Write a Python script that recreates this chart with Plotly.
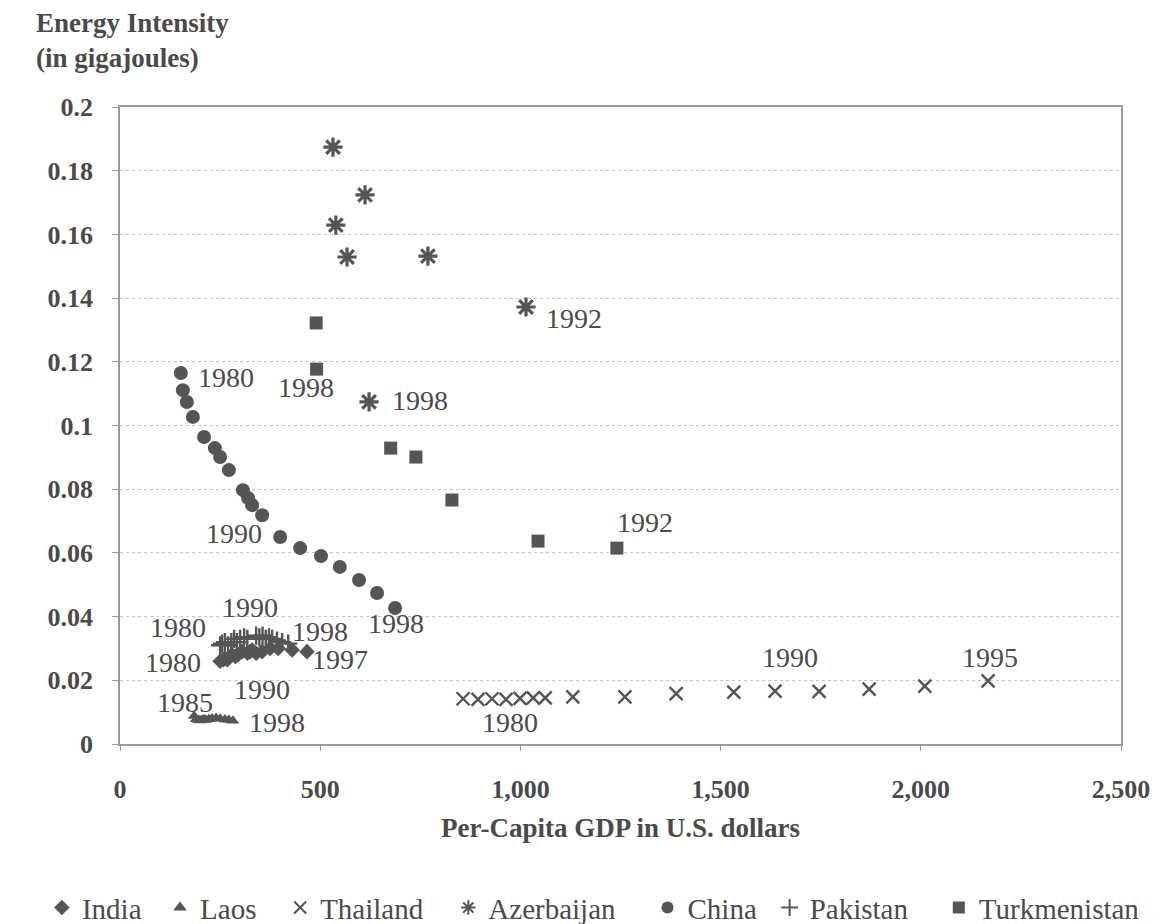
import plotly.graph_objects as go

# ---------------- data ----------------
india_x = [250, 258, 262, 268, 272, 280, 288, 295, 305, 318, 325, 330, 340, 355, 375, 395, 430, 467]
india_y = [0.026, 0.0265, 0.027, 0.0265, 0.027, 0.028, 0.0275, 0.028, 0.029, 0.0285, 0.029, 0.0295,
           0.0285, 0.029, 0.030, 0.030, 0.0295, 0.029]

laos_x = [185, 190, 196, 200, 205, 210, 215, 222, 230, 240, 250, 262, 272, 282]
laos_y = [0.0088, 0.0078, 0.0075, 0.0074, 0.0076, 0.0078, 0.0075, 0.0078, 0.008, 0.0082, 0.0079,
          0.0077, 0.0075, 0.0073]

thailand_x = [857, 894, 929, 964, 999, 1032, 1062, 1131, 1261, 1389, 1533, 1636, 1746, 1871, 2010, 2168]
thailand_y = [0.0142, 0.0140, 0.0142, 0.0140, 0.0143, 0.0145, 0.0145, 0.0148, 0.0148, 0.0158,
              0.0163, 0.0166, 0.0165, 0.0172, 0.0182, 0.0198]

azerbaijan_x = [1014, 769, 612, 532, 539, 567, 622]
azerbaijan_y = [0.1372, 0.1532, 0.1724, 0.1874, 0.1629, 0.1529, 0.1074]

china_x = [152, 157, 167, 182, 210, 237, 250, 272, 307, 320, 330, 355, 400, 450, 502, 549, 597, 642, 687]
china_y = [0.1165, 0.1111, 0.1074, 0.1027, 0.0964, 0.0929, 0.0901, 0.0860, 0.0797, 0.0772, 0.0750,
           0.0718, 0.0650, 0.0615, 0.0590, 0.0556, 0.0515, 0.0474, 0.0427]

pakistan_x = [250, 255, 262, 270, 278, 285, 292, 300, 310, 318, 340, 348, 356, 364, 372, 380, 392, 405, 420]
pakistan_y = [0.031, 0.0315, 0.032, 0.031, 0.032, 0.033, 0.032, 0.033, 0.0335, 0.033, 0.034, 0.0335,
              0.034, 0.033, 0.0335, 0.033, 0.0325, 0.032, 0.0315]

turkmenistan_x = [1241, 1044, 829, 739, 676, 490, 491]
turkmenistan_y = [0.0615, 0.0637, 0.0766, 0.0901, 0.0929, 0.1322, 0.1177]

# year labels: (text, x, y)
year_labels = [
    ("1980", 265, 0.1150), ("1990", 285, 0.0662), ("1998", 690, 0.0377),
    ("1998", 465, 0.1118), ("1998", 749, 0.1080), ("1992", 1134, 0.1337),
    ("1992", 1311, 0.0697),
    ("1980", 145, 0.0367), ("1990", 325, 0.0430), ("1998", 500, 0.0352),
    ("1980", 132, 0.0257), ("1997", 549, 0.0264),
    ("1985", 162, 0.0129), ("1990", 355, 0.0170), ("1998", 392, 0.0069),
    ("1980", 974, 0.0066), ("1990", 1673, 0.0273), ("1995", 2173, 0.0273),
]

y_ticks = [0, 0.02, 0.04, 0.06, 0.08, 0.1, 0.12, 0.14, 0.16, 0.18, 0.2]
y_ticktext = ["0", "0.02", "0.04", "0.06", "0.08", "0.1", "0.12", "0.14", "0.16", "0.18", "0.2"]
x_ticks = [0, 500, 1000, 1500, 2000, 2500]
x_ticktext = ["0", "500", "1,000", "1,500", "2,000", "2,500"]

# ---------------- figure ----------------
FONT = "Liberation Serif"
INK = "#555555"
TXT = "#4a4a4a"

fig = go.Figure()

# legend slot positions (paper x, left edge) for each series
legend_slots = [-0.078, 0.040, 0.160, 0.328, 0.527, 0.649, 0.818]


def add(i, name, xs, ys, symbol, size, lw=0, open_=False):
    marker = dict(symbol=symbol, size=size, color=INK,
                  line=dict(color=INK, width=lw if open_ else 0))
    lname = "legend" if i == 0 else f"legend{i + 1}"
    fig.add_trace(go.Scatter(x=xs, y=ys, mode="markers", name=name, marker=marker, legend=lname))
    fig.update_layout({lname: dict(orientation="h", x=legend_slots[i], xanchor="left",
                                   y=-0.257, yanchor="middle", bgcolor="rgba(0,0,0,0)",
                                   font=dict(family=FONT, size=29, color=TXT),
                                   itemsizing="constant", itemwidth=30)})


add(0, "India", india_x, india_y, "diamond", 12)
add(1, "Laos", laos_x, laos_y, "triangle-up", 11)
add(2, "Thailand", thailand_x, thailand_y, "x-thin-open", 13, lw=2.4, open_=True)
add(3, "Azerbaijan", azerbaijan_x, azerbaijan_y, "asterisk-open", 16, lw=3.2, open_=True)
add(4, "China", china_x, china_y, "circle", 14)
add(5, "Pakistan", pakistan_x, pakistan_y, "cross-thin-open", 13, lw=2.4, open_=True)
add(6, "Turkmenistan", turkmenistan_x, turkmenistan_y, "square", 13)

for txt, x, y in year_labels:
    fig.add_annotation(x=x, y=y, text=txt, showarrow=False,
                       font=dict(family=FONT, size=28, color=TXT))

# axis titles
fig.add_annotation(xref="paper", yref="paper", x=-0.086, y=1.158, xanchor="left", yanchor="top",
                   text="<b>Energy Intensity<br>(in gigajoules)</b>", showarrow=False, align="left",
                   font=dict(family=FONT, size=27, color=TXT))
fig.add_annotation(xref="paper", yref="paper", x=0.5, y=-0.132, xanchor="center", yanchor="middle",
                   text="<b>Per-Capita GDP in U.S. dollars</b>", showarrow=False,
                   font=dict(family=FONT, size=27, color=TXT))

fig.update_layout(
    width=1161, height=924,
    margin=dict(l=120, r=40, t=107, b=180, autoexpand=False),
    paper_bgcolor="white", plot_bgcolor="white",
    font=dict(family=FONT, size=26, color=TXT),
    showlegend=True,
    xaxis=dict(range=[0, 2500], tickvals=x_ticks, ticktext=[f"<b>{t}</b>" for t in x_ticktext],
               showgrid=False,
               zeroline=False, showline=True, linecolor="#9a9a9a", linewidth=1.5, mirror=True,
               ticks="outside", ticklen=5, tickcolor="#9a9a9a", ticklabelstandoff=16,
               tickfont=dict(family=FONT, size=26, color=TXT)),
    yaxis=dict(range=[0, 0.2], tickvals=y_ticks, ticktext=[f"<b>{t}</b>" for t in y_ticktext],
               showgrid=True,
               gridcolor="#c4c4c4", griddash="dot", gridwidth=1.2,
               zeroline=False, showline=True, linecolor="#9a9a9a", linewidth=1.5, mirror=True,
               ticks="outside", ticklen=6, tickcolor="#9a9a9a", ticklabelstandoff=14,
               tickfont=dict(family=FONT, size=26, color=TXT)),
)

fig.write_html("out.html")
